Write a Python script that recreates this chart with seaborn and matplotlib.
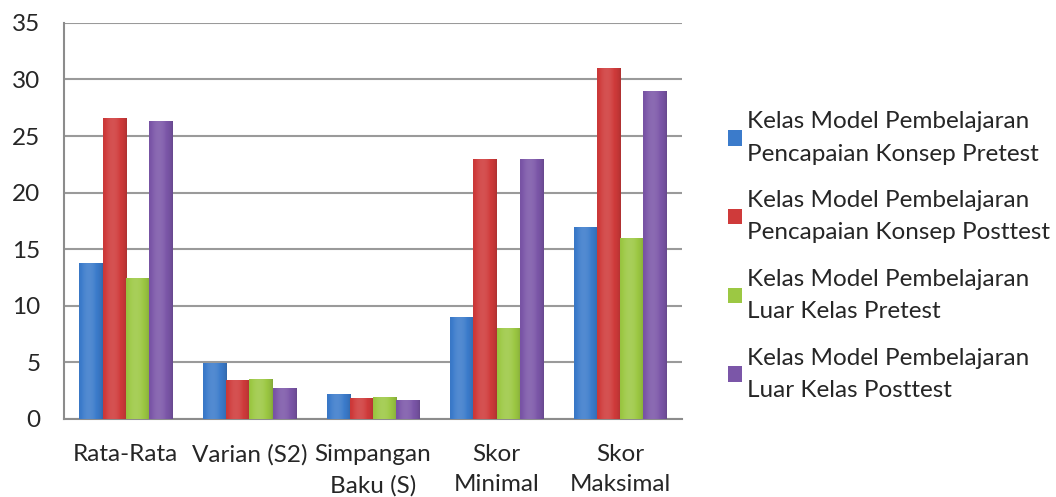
import matplotlib
matplotlib.use("Agg")
import matplotlib.pyplot as plt
import matplotlib.patches as mpatches
import matplotlib.colors as mcolors
import seaborn as sns
import numpy as np
import pandas as pd

categories = ["Rata-Rata", "Varian (S2)", "Simpangan\nBaku (S)", "Skor\nMinimal", "Skor\nMaksimal"]
series = ["Kelas Model Pembelajaran\nPencapaian Konsep Pretest",
          "Kelas Model Pembelajaran\nPencapaian Konsep Posttest",
          "Kelas Model Pembelajaran\nLuar Kelas Pretest",
          "Kelas Model Pembelajaran\nLuar Kelas Posttest"]
pk_pretest = [13.8, 4.95, 2.2, 9, 17]
pk_posttest = [26.6, 3.4, 1.85, 23, 31]
lk_pretest = [12.45, 3.5, 1.94, 8, 16]
lk_posttest = [26.3, 2.75, 1.68, 23, 29]
colors = ["#3b7bcb", "#cf3a3a", "#9cc843", "#7b56a8"]

rows = []
for s, vals in zip(series, [pk_pretest, pk_posttest, lk_pretest, lk_posttest]):
    for c, v in zip(categories, vals):
        rows.append({"kategori": c, "kelas": s, "nilai": v})
df = pd.DataFrame(rows)

sns.set_style("white")
plt.rcParams['font.family'] = ['Lato', 'DejaVu Sans']

fig = plt.figure(figsize=(10.56, 4.97), dpi=100)
ax = fig.add_axes([0.0606, 0.157, 0.5852, 0.797])

sns.barplot(data=df, x="kategori", y="nilai", hue="kelas", hue_order=series,
            order=categories, palette=colors, width=0.75, legend=False,
            edgecolor="none", linewidth=0, ax=ax, zorder=3)

ax.set_ylim(0, 35)
ax.set_xlim(-0.5, 4.5)
xl = ax.get_xlim()

# shade each bar with a horizontal gradient, like the excel bevel
t = np.linspace(0, 1, 64)
prof = 0.55 + 0.45 * np.sin(np.pi * (0.15 + 0.85 * t)) ** 0.6
for i, p in enumerate(ax.patches):
    base = np.array(mcolors.to_rgb(colors[i // len(categories)]))
    img = np.zeros((1, len(t), 3))
    for k, f in enumerate(prof):
        if f >= 0.9:
            img[0, k] = base + (1 - base) * (f - 0.9) * 1.2
        else:
            img[0, k] = base * (0.55 + 0.45 * f / 0.9)
    x0, y0 = p.get_x(), p.get_y()
    w, h = p.get_width(), p.get_height()
    im = ax.imshow(np.clip(img, 0, 1), extent=[x0, x0 + w, y0, y0 + h],
                   aspect="auto", zorder=3, interpolation="bilinear")
    im.set_clip_path(p)
ax.set_xlim(xl)
ax.set_ylim(0, 35)

ax.set_yticks(range(0, 36, 5))
ax.yaxis.grid(True, color="#9a9a9a", linewidth=1.5)
ax.set_axisbelow(True)
ax.set_xlabel("")
ax.set_ylabel("")
for side in ["top", "right"]:
    ax.spines[side].set_visible(False)
for side in ["left", "bottom"]:
    ax.spines[side].set_color("#8c8c8c")
    ax.spines[side].set_linewidth(1.5)
ax.tick_params(axis="y", length=0, pad=17, labelsize=17.5)
ax.tick_params(axis="x", length=0, pad=18, labelsize=17.5)
for lab in ax.get_xticklabels():
    lab.set_linespacing(1.55)

handles = [mpatches.Patch(facecolor=c, edgecolor="none") for c in colors]
fig.legend(handles, series, loc="upper left", bbox_to_anchor=(0.689, 0.776),
           frameon=False, fontsize=17.5, handlelength=0.6, handleheight=0.6,
           handletextpad=0.2, labelspacing=1.05, borderpad=0, borderaxespad=0)
for txt in fig.legends[0].get_texts():
    txt.set_linespacing(1.66)

fig.savefig("out.png", dpi=100)
